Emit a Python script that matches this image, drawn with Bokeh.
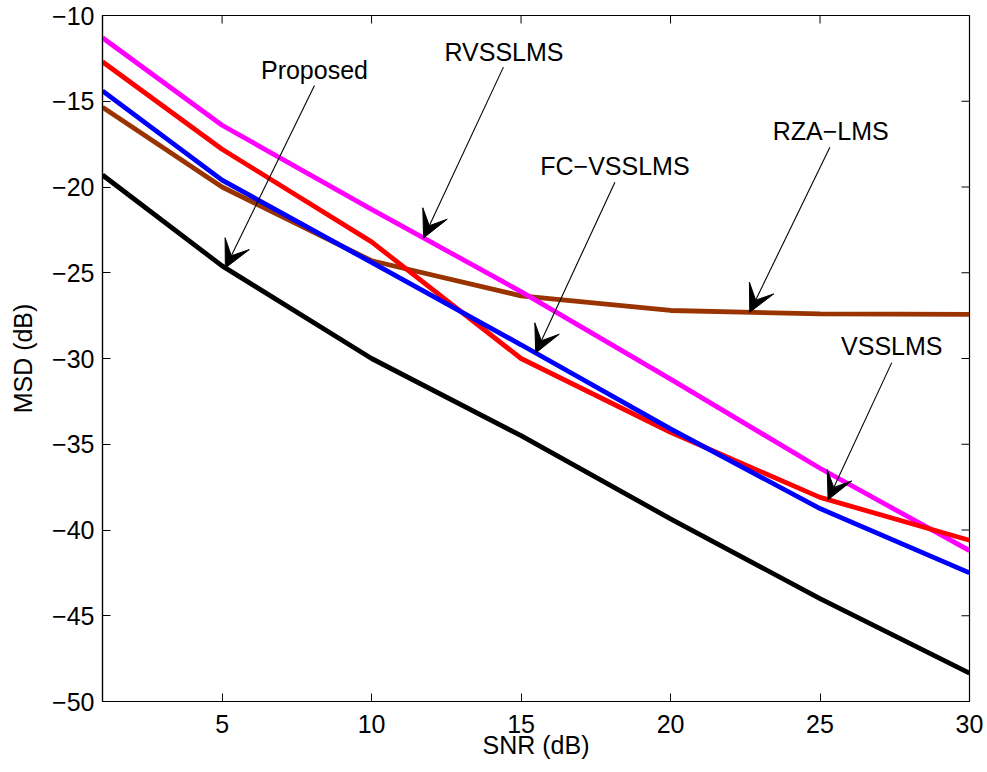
import numpy as np
from bokeh.plotting import figure
from bokeh.models import (FixedTicker, Range1d, Arrow, VeeHead,
                          ColumnDataSource, LabelSet)
from bokeh.core.properties import value
from bokeh.embed import file_html
from bokeh.resources import INLINE

# ---- data ----
snr = [1, 5, 10, 15, 20, 25, 30]
proposed = [-19.3, -24.6, -30.0, -34.5, -39.35, -44.0, -48.35]
vsslms = [-12.7, -17.8, -23.2, -30.0, -34.3, -38.1, -40.6]
fc_vsslms = [-14.4, -19.6, -24.4, -29.2, -34.1, -38.75, -42.5]
rvsslms = [-11.3, -16.4, -21.3, -26.1, -31.2, -36.4, -41.2]
rza_lms = [-15.35, -20.0, -24.3, -26.35, -27.2, -27.4, -27.43]

x_ticks = [5, 10, 15, 20, 25, 30]
y_ticks = [-50, -45, -40, -35, -30, -25, -20, -15, -10]

# annotation names, text centres, arrow starts and arrow-tip x positions
ann_names = ["Proposed", "RVSSLMS", "FC\u2212VSSLMS", "RZA\u2212LMS", "VSSLMS"]
ann_series = [proposed, rvsslms, fc_vsslms, rza_lms, vsslms]
ann_text_x = [8.09, 14.43, 18.14, 25.36, 27.40]
ann_text_y = [-13.2, -12.13, -18.80, -16.76, -29.30]
ann_start_x = [8.09, 14.41, 18.14, 25.33, 27.40]
ann_start_y = [-14.08, -13.01, -19.72, -17.68, -30.24]
ann_tip_x = [5.11, 11.74, 15.49, 22.65, 25.27]

FONT = "Liberation Sans"
FS = "25px"
X0, X1, Y0, Y1 = 1, 30, -50, -10

p = figure(width=987, height=772, output_backend="svg", toolbar_location=None,
           x_range=Range1d(X0, X1), y_range=Range1d(Y0, Y1),
           min_border_left=102, min_border_right=18, min_border_top=15,
           min_border_bottom=71, background_fill_color="white",
           border_fill_color="white")
p.xgrid.visible = False
p.ygrid.visible = False
p.outline_line_color = "black"
p.outline_line_width = 1.2

lw = 4.8
p.line(snr, rza_lms, line_color="#993300", line_width=lw)
p.line(snr, rvsslms, line_color="#ff00ff", line_width=lw)
p.line(snr, vsslms, line_color="#ff0000", line_width=lw)
p.line(snr, fc_vsslms, line_color="#0000ff", line_width=lw)
p.line(snr, proposed, line_color="#000000", line_width=lw)


def fmt(v):
    return str(v).replace("-", "\u2212")


def style_axis(ax, ticks):
    ax.ticker = FixedTicker(ticks=ticks)
    ax.minor_tick_line_color = None
    ax.major_tick_in = 8
    ax.major_tick_out = 0
    ax.axis_line_color = "black"
    ax.axis_line_width = 1.2
    ax.major_tick_line_color = "black"
    ax.major_tick_line_width = 1
    ax.major_label_overrides = {t: fmt(t) for t in ticks}
    ax.major_label_text_font = FONT
    ax.major_label_text_font_size = FS
    ax.major_label_text_color = "black"
    ax.axis_label_text_font = FONT
    ax.axis_label_text_font_size = FS
    ax.axis_label_text_font_style = "normal"
    ax.axis_label_text_color = "black"


xa = p.xaxis[0]
style_axis(xa, x_ticks)
xa.axis_label = "SNR (dB)"
xa.major_label_standoff = 13
xa.axis_label_standoff = -5

ya = p.yaxis[0]
style_axis(ya, y_ticks)
ya.axis_label = "MSD (dB)"
ya.major_label_standoff = 8
ya.axis_label_standoff = 12

# inward ticks on the top and right edges of the box
p.ray(x=x_ticks, y=[Y1] * len(x_ticks), length=8, length_units="screen",
      angle=-np.pi / 2, line_color="black", line_width=1)
p.ray(x=[X1] * len(y_ticks), y=y_ticks, length=8, length_units="screen",
      angle=np.pi, line_color="black", line_width=1)

# annotations
for sx, sy, tx, ser in zip(ann_start_x, ann_start_y, ann_tip_x, ann_series):
    ty = float(np.interp(tx, snr, ser))
    p.add_layout(Arrow(end=VeeHead(size=27, fill_color="black",
                                   line_color="black", line_width=1),
                       x_start=sx, y_start=sy, x_end=tx, y_end=ty,
                       line_color="black", line_width=1.1))

src = ColumnDataSource(dict(x=ann_text_x, y=ann_text_y, t=ann_names))
p.add_layout(LabelSet(x="x", y="y", text="t", source=src, text_align="center",
                      text_baseline="middle", text_font=value(FONT),
                      text_font_size=FS, text_color="black"))

open("out.html", "w").write(file_html(p, INLINE))
